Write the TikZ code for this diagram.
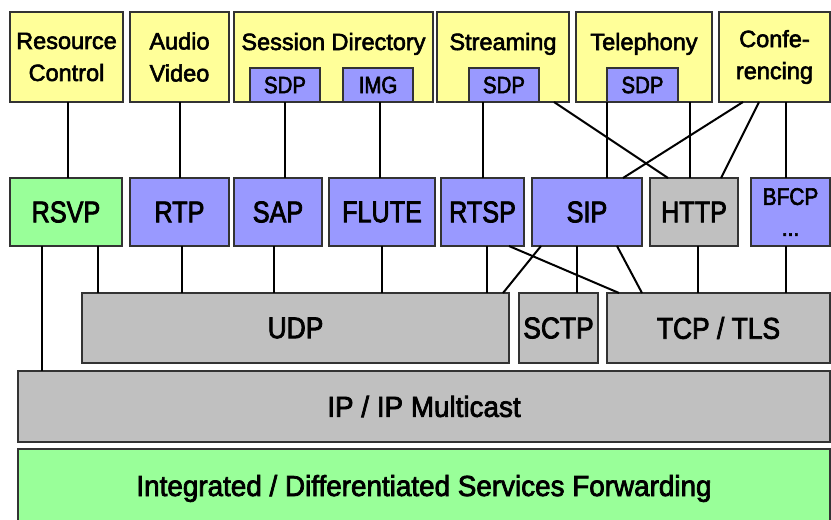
\documentclass[tikz,border=0pt]{standalone}
\usepackage{fontspec}
\setmainfont{Liberation Sans}
\newfontfamily\fHdr[FakeBold=2.5]{Liberation Sans}
\newfontfamily\fProt[FakeStretch=0.84,FakeBold=2.5]{Liberation Sans}
\newfontfamily\fSub[FakeStretch=0.87,FakeBold=2.5]{Liberation Sans}
\newfontfamily\fTr[FakeStretch=0.88,FakeBold=2.5]{Liberation Sans}
\newfontfamily\fIp[FakeStretch=0.96,FakeBold=2.5]{Liberation Sans}
\definecolor{cYel}{HTML}{FFFF99}
\definecolor{cBlu}{HTML}{9999FF}
\definecolor{cGry}{HTML}{C0C0C0}
\definecolor{cGrn}{HTML}{99FF99}
\definecolor{cBrd}{HTML}{333333}
\tikzset{
  boxbase/.style={draw=cBrd, line width=1.2pt, inner sep=0pt, outer sep=0pt, anchor=center, align=center, text=black},
  topbox/.style={boxbase, fill=cYel, minimum height=90pt, font=\fHdr\fontsize{23.5}{32}\selectfont},
  subbox/.style={boxbase, fill=cBlu, minimum height=34pt, minimum width=70pt, font=\fSub\fontsize{23.5}{28}\selectfont},
  protbox/.style={boxbase, minimum height=68pt, font=\fProt\fontsize{30}{36}\selectfont},
  trbox/.style={boxbase, fill=cGry, minimum height=70pt, font=\fTr\fontsize{30}{36}\selectfont},
  hdrtext/.style={inner sep=0pt, anchor=base, font=\fHdr\fontsize{23.5}{32}\selectfont},
  conn/.style={line width=2pt, black}
}
\begin{document}
\begin{tikzpicture}[x=1pt, y=-1pt]
\useasboundingbox (0,0) rectangle (831,520);
\clip (0,0) rectangle (831,520);
% top row
\node[topbox, minimum width=113pt] (rc) at (66.5,57) {Resource\\Control};
\node[topbox, minimum width=99pt] (av) at (179.5,57) {Audio\\Video};
\node[topbox, minimum width=199pt] (sd) at (333.5,57) {};
\node[hdrtext] (sdT) at (333.5,50) {Session Directory};
\node[topbox, minimum width=132pt] (st) at (503,57) {};
\node[hdrtext] (stT) at (503,50) {Streaming};
\node[topbox, minimum width=136pt] (te) at (644,57) {};
\node[hdrtext] (teT) at (644,50) {Telephony};
\node[topbox, minimum width=111pt] (co) at (774.5,57) {Confe-\\rencing};
% sub boxes
\node[subbox] (sdp1) at (285,85) {SDP};
\node[subbox] (img) at (378,85) {IMG};
\node[subbox] (sdp2) at (504,85) {SDP};
\node[subbox, minimum width=71pt] (sdp3) at (642.5,85) {SDP};
% protocol row
\node[protbox, fill=cGrn, minimum width=112pt] (rsvp) at (66,212) {RSVP};
\node[protbox, fill=cBlu, minimum width=99pt] (rtp) at (179.5,212) {RTP};
\node[protbox, fill=cBlu, minimum width=88pt] (sap) at (278,212) {SAP};
\node[protbox, fill=cBlu, minimum width=106pt] (flute) at (382,212) {FLUTE};
\node[protbox, fill=cBlu, minimum width=83pt] (rtsp) at (482.5,212) {RTSP};
\node[protbox, fill=cBlu, minimum width=110pt] (sip) at (587,212) {SIP};
\node[protbox, fill=cGry, minimum width=88pt] (http) at (694,212) {HTTP};
\node[protbox, fill=cBlu, minimum width=79pt, font=\fSub\fontsize{24}{31}\selectfont] (bfcp) at (790.5,212) {BFCP\\[0pt]...};
% transport row
\node[trbox, minimum width=427pt] (udp) at (295.5,328) {UDP};
\node[trbox, minimum width=79pt] (sctp) at (558.5,328) {SCTP};
\node[trbox, minimum width=223pt] (tcp) at (718.5,328) {TCP / TLS};
% network
\node[boxbase, fill=cGry, minimum width=812pt, minimum height=71pt, font=\fIp\fontsize{29}{35}\selectfont] (ip) at (424,406.5) {IP / IP Multicast};
\node[boxbase, fill=cGrn, minimum width=812pt, minimum height=79pt, font=\fIp\fontsize{29}{35}\selectfont] (fwd) at (424,488.5) {\raisebox{-3pt}{Integrated / Differentiated Services Forwarding}};
% connectors top -> protocols
\draw[conn] (rc.south -| 68,0) -- (rsvp.north -| 68,0);
\draw[conn] (av.south -| 180,0) -- (rtp.north -| 180,0);
\draw[conn] (sdp1.south -| 285,0) -- (sap.north -| 285,0);
\draw[conn] (img.south -| 380,0) -- (flute.north -| 380,0);
\draw[conn] (sdp2.south -| 483,0) -- (rtsp.north -| 483,0);
\draw[conn] (st.south -| 554,0) -- (http.north -| 668,0);
\draw[conn] (sdp3.south -| 607,0) -- (sip.north -| 607,0);
\draw[conn] (te.south -| 690,0) -- (http.north -| 690,0);
\draw[conn] (co.south -| 743,0) -- (sip.north -| 623,0);
\draw[conn] (co.south -| 759,0) -- (http.north -| 721,0);
\draw[conn] (co.south -| 786,0) -- (bfcp.north -| 786,0);
% connectors protocols -> transport
\draw[conn] (rsvp.south -| 42,0) -- (ip.north -| 42,0);
\draw[conn] (rsvp.south -| 98,0) -- (udp.north -| 98,0);
\draw[conn] (rtp.south -| 182,0) -- (udp.north -| 182,0);
\draw[conn] (sap.south -| 274,0) -- (udp.north -| 274,0);
\draw[conn] (flute.south -| 382,0) -- (udp.north -| 382,0);
\draw[conn] (rtsp.south -| 487,0) -- (udp.north -| 487,0);
\draw[conn] (rtsp.south -| 509,0) -- (tcp.north -| 619,0);
\draw[conn] (sip.south -| 541,0) -- (udp.north -| 503,0);
\draw[conn] (sip.south -| 577,0) -- (sctp.north -| 577,0);
\draw[conn] (sip.south -| 617,0) -- (tcp.north -| 642,0);
\draw[conn] (http.south -| 698,0) -- (tcp.north -| 698,0);
\draw[conn] (bfcp.south -| 786,0) -- (tcp.north -| 786,0);
\end{tikzpicture}
\end{document}
